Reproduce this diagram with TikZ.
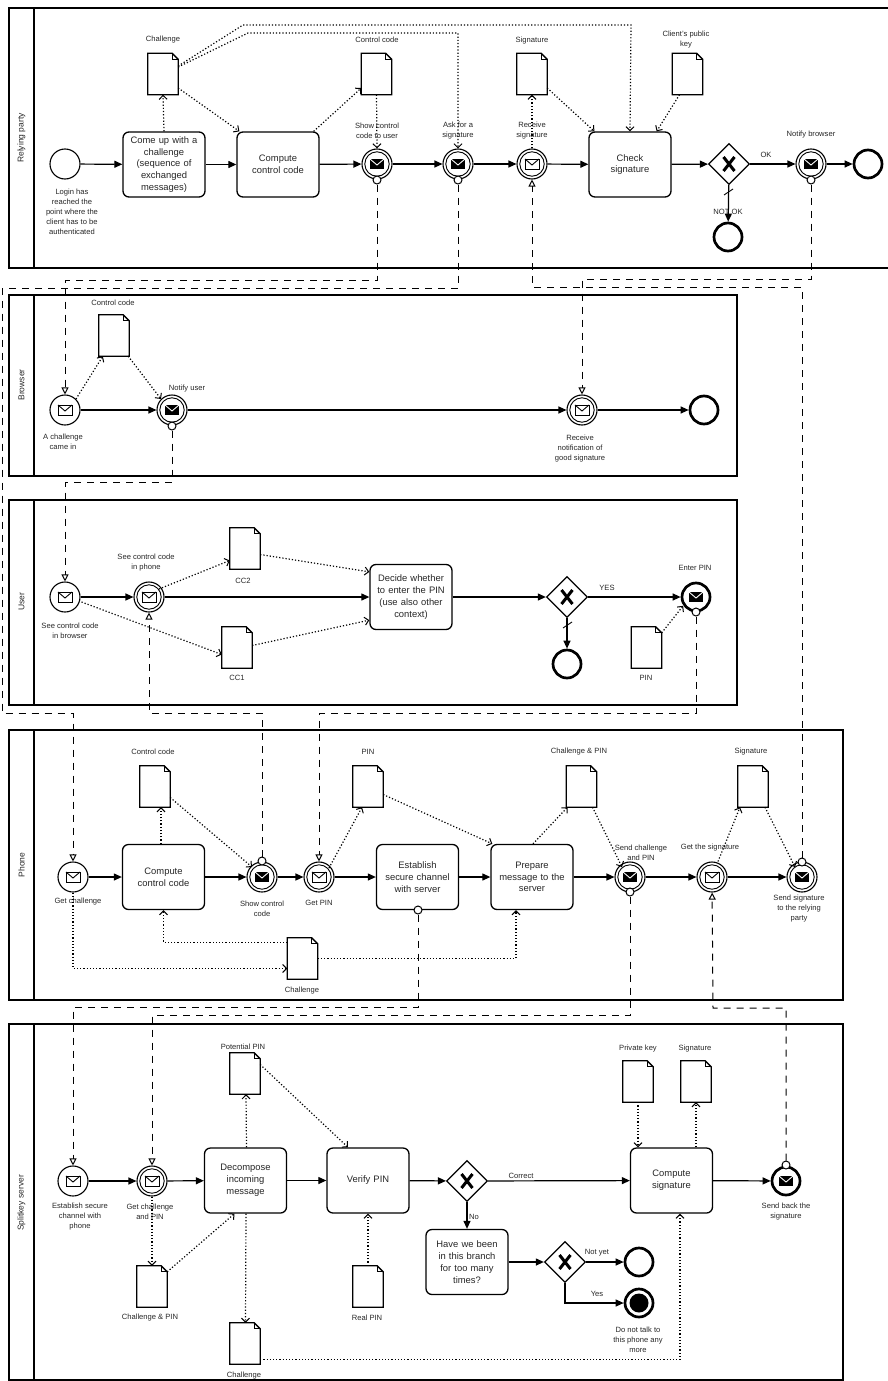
\documentclass[tikz,border=0pt]{standalone}
\usepackage{fontspec}
\setmainfont{Liberation Sans}
\usetikzlibrary{arrows.meta,shapes.geometric}
\newcommand\envO{%
  \draw[line width=0.9pt, fill=white] ([shift={(-7pt,-5pt)}]path picture bounding box.center) rectangle ([shift={(7pt,5pt)}]path picture bounding box.center);
  \draw[line width=0.9pt] ([shift={(-7pt,5pt)}]path picture bounding box.center) -- ([shift={(0pt,-1pt)}]path picture bounding box.center) -- ([shift={(7pt,5pt)}]path picture bounding box.center);}
\newcommand\envF{%
  \fill ([shift={(-7pt,-5pt)}]path picture bounding box.center) rectangle ([shift={(7pt,5pt)}]path picture bounding box.center);
  \draw[white, line width=0.9pt] ([shift={(-7pt,5pt)}]path picture bounding box.center) -- ([shift={(0pt,-1pt)}]path picture bounding box.center) -- ([shift={(7pt,5pt)}]path picture bounding box.center);}
\newcommand\innerring{\draw[line width=0.9pt] (path picture bounding box.center) circle (12.2pt);}
\newcommand\docat[3]{%
  \node[docbox] (#1) at (#2,#3) {};
  \draw[line width=1.3pt] (#1.north west) -- ([xshift=-6pt]#1.north east) -- ([yshift=-6pt]#1.north east) -- (#1.south east) -- (#1.south west) -- cycle;
  \draw[line width=0.8pt] ([xshift=-6pt]#1.north east) -- ([xshift=-6pt,yshift=-6pt]#1.north east) -- ([yshift=-6pt]#1.north east);}
\tikzset{
  lbl/.style={font=\fontsize{7.6}{10}\selectfont, align=center, inner sep=0, text=black!85},
  pooltxt/.style={font=\fontsize{8.5}{10}\selectfont, rotate=90, inner sep=0, text=black!85},
  pool/.style={draw, line width=1.5pt},
  task/.style={draw, rounded corners=6pt, line width=1.3pt, minimum width=82pt, minimum height=65pt, align=center, text width=78pt, font=\fontsize{9.4}{11.8}\selectfont, inner sep=0, text=black!85},
  ev/.style={circle, draw, minimum size=30pt, inner sep=0, line width=1.1pt},
  endev/.style={circle, draw, minimum size=28pt, inner sep=0, line width=2.7pt},
  startmsg/.style={ev, path picture={\envO}},
  catchmsg/.style={ev, path picture={\innerring\envO}},
  throwmsg/.style={ev, path picture={\innerring\envF}},
  endmsg/.style={endev, path picture={\envF}},
  terminate/.style={endev, path picture={\fill (path picture bounding box.center) circle (9.5pt);}},
  gw/.style={diamond, draw, line width=1.3pt, minimum width=41pt, minimum height=41pt, inner sep=0,
    path picture={\draw[line width=3pt] ([shift={(-5.5pt,-7pt)}]path picture bounding box.center) -- ([shift={(5.5pt,7pt)}]path picture bounding box.center);
                  \draw[line width=3pt] ([shift={(-5.5pt,7pt)}]path picture bounding box.center) -- ([shift={(5.5pt,-7pt)}]path picture bounding box.center);}},
  docbox/.style={minimum width=30pt, minimum height=41pt, inner sep=0},
  seq/.style={line width=1.2pt, -{Triangle[length=8pt,width=7pt]}},
  assoc/.style={line width=1.2pt, dash pattern=on 1.2pt off 2pt, -{Straight Barb[length=4pt,width=8pt,line width=1pt]}},
  msg/.style={line width=1pt, dash pattern=on 7pt off 6pt, -{Triangle[open,length=7pt,width=7pt,line width=1pt]}},
  mc/.style={circle, draw, fill=white, minimum size=8pt, inner sep=0, line width=1pt},
}
\begin{document}
\begin{tikzpicture}[x=1pt,y=-1pt]
\useasboundingbox (0,0) rectangle (888,1381);
% ---------- pools ----------
\draw[pool] (9,8) rectangle (896,268); \draw[pool] (34,8) -- (34,268);
\draw[pool] (9,295) rectangle (737,476); \draw[pool] (34,295) -- (34,476);
\draw[pool] (9,500) rectangle (737,705); \draw[pool] (34,500) -- (34,705);
\draw[pool] (9,730) rectangle (843,1000); \draw[pool] (34,730) -- (34,1000);
\draw[pool] (9,1024) rectangle (843,1380); \draw[pool] (34,1024) -- (34,1380);
\node[pooltxt] (p1) at (21.5,138) {Relying party};
\node[pooltxt] (p2) at (21.5,385) {Browser};
\node[pooltxt] (p3) at (21.5,602) {User};
\node[pooltxt] (p4) at (21.5,865) {Phone};
\node[pooltxt] (p5) at (21.5,1203) {Splitkey server};

% ---------- Relying party ----------
\node[ev] (rstart) at (65,164) {};
\node[task] (come) at (164,164.5) {Come up with a\\challenge\\(sequence of\\exchanged\\messages)};
\node[task] (ccc1) at (278,164.5) {Compute\\control code};
\node[throwmsg] (evshow) at (377,164) {};
\node[throwmsg] (evask) at (458,164) {};
\node[catchmsg] (evrecv) at (532,164) {};
\node[task] (check) at (630,164.5) {Check\\signature};
\node[gw] (gw1) at (729,164) {};
\node[endev] (rend1) at (728,237) {};
\node[throwmsg] (evnotify) at (811,164) {};
\node[endev] (rend2) at (868,164) {};
\docat{dchal}{163}{74}
\docat{dcc}{376.5}{74}
\docat{dsig}{532}{74}
\docat{dpk}{687.5}{74}
\node[lbl] (l1) at (72,211.5) {Login has\\reached the\\point where the\\client has to be\\authenticated};
\node[lbl] (l2) at (163,40) {Challenge};
\node[lbl] (l3) at (377,40) {Control code};
\node[lbl] (l4) at (377,130.5) {Show control\\code to user};
\node[lbl] (l5) at (458,130.5) {Ask for a\\signature};
\node[lbl] (l6) at (532,41) {Signature};
\node[lbl] (l7) at (532,130.5) {Receive\\signature};
\node[lbl] (l8) at (686,39.5) {Client's public\\key};
\node[lbl] (l9) at (766,155) {OK};
\node[lbl] (l10) at (728,212) {NOT OK};
\node[lbl] (l11) at (811,135) {Notify browser};
\draw[seq] (rstart) -- (come);
\draw[seq] (come) -- (ccc1);
\draw[seq] (ccc1) -- (evshow);
\draw[seq] (evshow) -- (evask);
\draw[seq] (evask) -- (evrecv);
\draw[seq] (evrecv) -- (check);
\draw[seq] (check) -- (gw1);
\draw[seq] (gw1) -- (evnotify);
\draw[seq] (gw1) -- (rend1);
\draw[line width=0.9pt] (724,195) -- (733,189);
\draw[seq] (evnotify) -- (rend2);
\draw[assoc] (come.north) -- (dchal.south);
\draw[assoc] ([yshift=-14pt]dchal.east) -- ([xshift=3pt]ccc1.north west);
\draw[assoc] ([xshift=-6pt]ccc1.north east) -- ([yshift=-14pt]dcc.west);
\draw[assoc] (dcc.south) -- (evshow.north);
\draw[assoc] ([yshift=8pt]dchal.east) -- (243,25) -- (631,25) -- (check.north);
\draw[assoc] ([yshift=7pt]dchal.east) -- (248,33) -- (458,33) -- (evask.north);
\draw[assoc] (evrecv.north) -- (dsig.south);
\draw[assoc] ([yshift=-14pt]dsig.east) -- ([xshift=6pt]check.north west);
\draw[assoc] ([xshift=-8pt]dpk.south) -- ([xshift=-15pt]check.north east);

% ---------- Browser ----------
\node[startmsg] (bstart) at (65,410) {};
\node[throwmsg] (evnu) at (172,410) {};
\node[catchmsg] (evrn) at (582,410) {};
\node[endev] (bend) at (704,410) {};
\docat{dbcc}{114}{335.5}
\node[lbl] (l12) at (113,303) {Control code};
\node[lbl] (l13) at (63,441.5) {A challenge\\came in};
\node[lbl] (l14) at (187,389) {Notify user};
\node[lbl] (l15) at (580,449) {Receive\\notification of\\good signature};
\draw[seq] (bstart) -- (evnu);
\draw[seq] (evnu) -- (evrn);
\draw[seq] (evrn) -- (bend);
\draw[assoc] (bstart.north east) -- ([xshift=4pt]dbcc.south west);
\draw[assoc] ([xshift=-1pt]dbcc.south east) -- (evnu.north west);

% ---------- User ----------
\node[startmsg] (ustart) at (65,597) {};
\node[catchmsg] (evsp) at (149,597) {};
\node[task] (decide) at (411,597) {Decide whether\\to enter the PIN\\(use also other\\context)};
\node[gw] (gw2) at (567,597) {};
\node[endev] (uend) at (567,664) {};
\node[endmsg] (evep) at (696,597) {};
\docat{dcc2}{245}{548.5}
\docat{dcc1}{237}{647.5}
\docat{dpin}{646.5}{647.5}
\node[lbl] (l16) at (146,562.5) {See control code\\in phone};
\node[lbl] (l17) at (70,630.5) {See control code\\in browser};
\node[lbl] (l18) at (243,581) {CC2};
\node[lbl] (l19) at (237,678) {CC1};
\node[lbl] (l20) at (607,588) {YES};
\node[lbl] (l21) at (695,568) {Enter PIN};
\node[lbl] (l22) at (646,678) {PIN};
\draw[seq] (ustart) -- (evsp);
\draw[seq] (evsp) -- (decide);
\draw[seq] (decide) -- (gw2);
\draw[seq] (gw2) -- (evep);
\draw[seq] (gw2) -- (uend);
\draw[line width=0.9pt] (563,628) -- (572,622);
\draw[assoc] ([shift={(1pt,-5pt)}]ustart.east) -- ([yshift=-7pt]dcc1.west);
\draw[assoc] ([shift={(-1pt,-3pt)}]evsp.north east) -- ([yshift=-12pt]dcc2.west);
\draw[assoc] ([yshift=-6pt]dcc2.east) -- ([yshift=-8pt]decide.north west);
\draw[assoc] ([yshift=2pt]dcc1.east) -- ([yshift=10pt]decide.south west);
\draw[assoc] ([yshift=-6pt]dpin.north east) -- ([shift={(-2pt,2pt)}]evep.south west);

% ---------- Phone ----------
\node[startmsg] (pstart) at (73,877) {};
\node[task] (ccc2) at (163.5,877) {Compute\\control code};
\node[throwmsg] (evscc) at (262,877) {};
\node[catchmsg] (evgp) at (319,877) {};
\node[task] (estab) at (417.5,877) {Establish\\secure channel\\with server};
\node[task] (prep) at (532,877) {Prepare\\message to the\\server};
\node[throwmsg] (evscp) at (630,877) {};
\node[catchmsg] (evgs) at (712,877) {};
\node[throwmsg] (evss) at (802,877) {};
\docat{dpcc}{155}{786.5}
\docat{dppin}{368}{786.5}
\docat{dcp}{581.5}{786.5}
\docat{dpsig}{753}{786.5}
\docat{dpchal}{302.5}{958.5}
\node[lbl] (l23) at (153,752) {Control code};
\node[lbl] (l24) at (78,902) {Get challenge};
\node[lbl] (l25) at (262,908.5) {Show control\\code};
\node[lbl] (l26) at (319,903) {Get PIN};
\node[lbl] (l27) at (368,752) {PIN};
\node[lbl] (l28) at (579,752) {Challenge \& PIN};
\node[lbl] (l29) at (641,853) {Send challenge\\and PIN};
\node[lbl] (l30) at (710,848) {Get the signature};
\node[lbl] (l31) at (751,752) {Signature};
\node[lbl] (l32) at (799,909) {Send signature\\to the relying\\party};
\node[lbl] (l33) at (302,991) {Challenge};
\draw[seq] (pstart) -- (ccc2);
\draw[seq] (ccc2) -- (evscc);
\draw[seq] (evscc) -- (evgp);
\draw[seq] (evgp) -- (estab);
\draw[seq] (estab) -- (prep);
\draw[seq] (prep) -- (evscp);
\draw[seq] (evscp) -- (evgs);
\draw[seq] (evgs) -- (evss);
\draw[assoc] ([xshift=-2.5pt]ccc2.north) -- ([xshift=6pt]dpcc.south);
\draw[assoc] ([yshift=-11pt]dpcc.east) -- ([shift={(1pt,-1pt)}]evscc.north west);
\draw[assoc] ([shift={(-1pt,-2pt)}]evgp.north east) -- ([xshift=-6pt]dppin.south);
\draw[assoc] ([yshift=-8pt]dppin.east) -- ([xshift=2pt]prep.north west);
\draw[assoc] ([xshift=1pt]prep.north) -- ([xshift=-14pt]dcp.south);
\draw[assoc] ([xshift=11pt]dcp.south) -- ([shift={(3pt,-1pt)}]evscp.north west);
\draw[assoc] ([xshift=6pt]evgs.north) -- ([xshift=-13pt]dpsig.south);
\draw[assoc] ([xshift=12pt]dpsig.south) -- ([shift={(4pt,-1pt)}]evss.north west);
\draw[assoc] (pstart.south) |- ([yshift=-10pt]dpchal.west);
\draw[assoc] ([yshift=16pt]dpchal.west) -| (ccc2.south);
\draw[assoc] (dpchal.east) -| ([xshift=-16pt]prep.south);

% ---------- Splitkey server ----------
\node[startmsg] (sstart) at (73,1181) {};
\node[catchmsg] (evgcp) at (152,1181) {};
\node[task] (decomp) at (245.5,1180.5) {Decompose\\incoming\\message};
\node[task] (verify) at (368,1180.5) {Verify PIN};
\node[gw] (gw3) at (467,1181) {};
\node[task] (compsig) at (671.5,1180.5) {Compute\\signature};
\node[endmsg] (evsb) at (786,1181) {};
\node[task] (haveweb) at (467,1262) {Have we been\\in this branch\\for too many\\times?};
\node[gw] (gw4) at (565,1262) {};
\node[endev] (send1) at (639,1262) {};
\node[terminate] (term) at (639,1303) {};
\docat{dpot}{245}{1073.5}
\docat{dscp}{152}{1286.5}
\docat{dschal}{245}{1343.5}
\docat{dreal}{368}{1286.5}
\docat{dpriv}{638}{1081.5}
\docat{dssig}{696}{1081.5}
\node[lbl] (l34) at (80,1217) {Establish secure\\channel with\\phone};
\node[lbl] (l35) at (150,1211.5) {Get challenge\\and PIN};
\node[lbl] (l36) at (243,1047) {Potential PIN};
\node[lbl] (l37) at (150,1318) {Challenge \& PIN};
\node[lbl] (l38) at (244,1376) {Challenge};
\node[lbl] (l39) at (367,1318) {Real PIN};
\node[lbl] (l40) at (521,1176) {Correct};
\node[lbl] (l41) at (474,1217) {No};
\node[lbl] (l42) at (638,1049) {Private key};
\node[lbl] (l43) at (695,1049) {Signature};
\node[lbl] (l44) at (786,1211.5) {Send back the\\signature};
\node[lbl] (l45) at (597,1253) {Not yet};
\node[lbl] (l46) at (597,1294) {Yes};
\node[lbl] (l47) at (638,1340) {Do not talk to\\this phone any\\more};
\draw[seq] (sstart) -- (evgcp);
\draw[seq] (evgcp) -- (decomp);
\draw[seq] (decomp) -- (verify);
\draw[seq] (verify) -- (gw3);
\draw[seq] (gw3) -- (compsig);
\draw[seq] (compsig) -- (evsb);
\draw[seq] (gw3) -- (haveweb);
\draw[seq] (haveweb) -- (gw4);
\draw[seq] (gw4) -- (send1);
\draw[seq] (gw4) |- (term);
\draw[assoc] (evgcp.south) -- (dscp.north);
\draw[assoc] ([yshift=-6pt]dscp.north east) -- ([xshift=-11pt]decomp.south);
\draw[assoc] ([xshift=1pt]decomp.north) -- ([xshift=1pt]dpot.south);
\draw[assoc] ([yshift=9pt]dpot.east) -- ([xshift=-20pt]verify.north);
\draw[assoc] ([xshift=0.5pt]decomp.south) -- ([xshift=0.5pt]dschal.north);
\draw[assoc] (dreal.north) -- (verify.south);
\draw[assoc] ([yshift=-16pt]dschal.east) -| ([xshift=8.5pt]compsig.south);
\draw[assoc] (dpriv.south) -- ([xshift=-33.5pt]compsig.north);
\draw[assoc] ([xshift=24.5pt]compsig.north) -- (dssig.south);

% ---------- message flows ----------
\node[mc] (mshow) at (377,180) {};
\node[mc] (mask) at (458,180) {};
\node[mc] (mnotify) at (811,180) {};
\node[mc] (mnu) at (172,426) {};
\node[mc] (mep) at (696,612) {};
\node[mc] (mscc) at (262,861) {};
\node[mc] (mest) at (418,910) {};
\node[mc] (mscp) at (630,892) {};
\node[mc] (mss) at (802,862) {};
\node[mc] (msb) at (786,1165) {};
\draw[msg] (mshow) -- (377,280) -- (65,280) -- (bstart);
\draw[msg] (mask) -- (458,288) -- (2,288) -- (2,713) -- (73,713) -- (pstart);
\draw[msg] (mnotify) -- (811,279) -- (582,279) -- (evrn);
\draw[msg] (mnu) -- (172,482) -- (65,482) -- (ustart);
\draw[msg] (mep) -- (696,713) -- (319,713) -- (evgp);
\draw[msg] (mscc) -- (262,713) -- (149,713) -- (evsp);
\draw[msg] (mest) -- (418,1007) -- (73,1007) -- (sstart);
\draw[msg] (mscp) -- (630,1015) -- (152,1015) -- (evgcp);
\draw[msg] (mss) -- (802,287) -- (532,287) -- (evrecv);
\draw[msg] (msb) -- (786,1008) -- (713,1008) -- (evgs);
\end{tikzpicture}
\end{document}
